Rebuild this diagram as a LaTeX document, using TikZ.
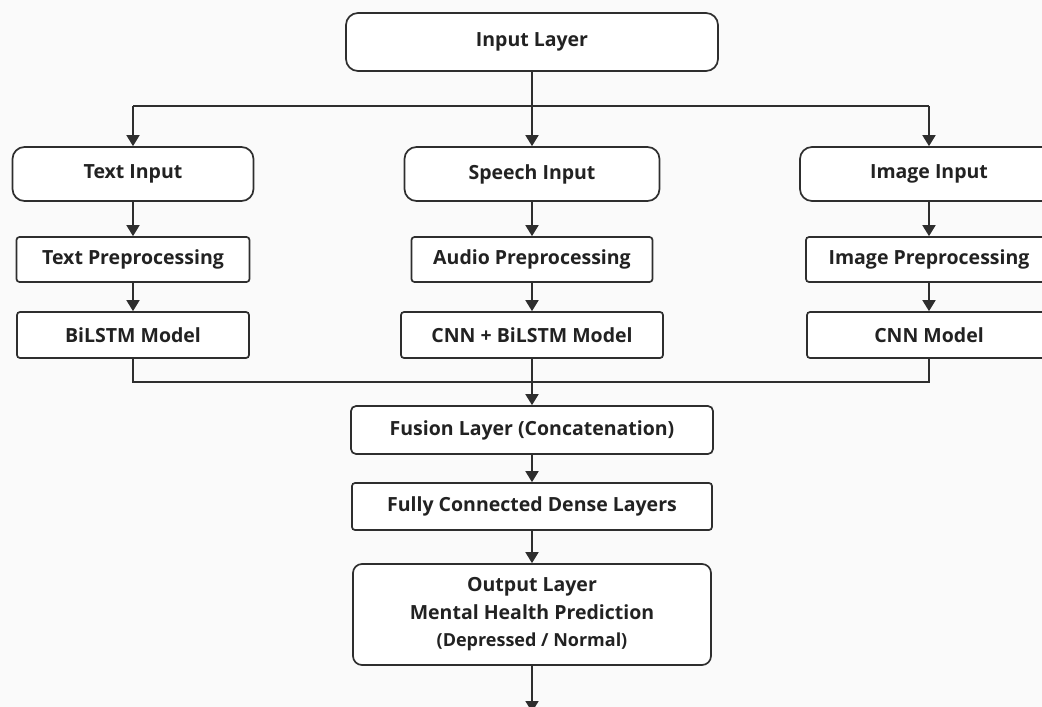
\documentclass[tikz,border=0pt]{standalone}
\usepackage{fontspec}
\setmainfont{Open Sans}
\usetikzlibrary{arrows.meta}
\definecolor{ln}{HTML}{2E2E2E}
\definecolor{tx}{HTML}{222222}
\definecolor{bg}{HTML}{FAFAFA}
\begin{document}
\begin{tikzpicture}[x=1pt,y=-1pt,
  box/.style={draw=ln, line width=1.7pt, fill=white, text=tx, font=\fontsize{19.5}{27.5}\selectfont\bfseries, inner sep=0pt, align=center},
  rbox/.style={box, rounded corners=12pt},
  sbox/.style={box, rounded corners=3pt},
  conn/.style={draw=ln, line width=1.7pt},
  arr/.style={conn, -{Triangle[width=13pt,length=11pt]}}]
\fill[bg] (0,0) rectangle (1042,707);
\useasboundingbox (0,0) rectangle (1042,707);
\clip (0,0) rectangle (1042,707);
% nodes
\node[rbox, minimum width=372pt, minimum height=58pt] (inp) at (532,42) {Input Layer};
\node[rbox, minimum width=241pt, minimum height=54pt] (tin) at (133,174) {Text Input};
\node[rbox, minimum width=255pt, minimum height=54pt] (sin) at (532,174) {Speech Input};
\node[rbox, minimum width=258pt, minimum height=54pt] (iin) at (929,174) {Image Input};
\node[sbox, minimum width=233pt, minimum height=45pt] (tpre) at (133,259.5) {Text Preprocessing};
\node[sbox, minimum width=241pt, minimum height=45pt] (apre) at (532,259.5) {Audio Preprocessing};
\node[sbox, minimum width=246pt, minimum height=45pt] (ipre) at (929,259.5) {Image Preprocessing};
\node[sbox, minimum width=232pt, minimum height=46pt] (bil) at (133,335) {BiLSTM Model};
\node[sbox, minimum width=262pt, minimum height=46pt] (cbil) at (532,335) {CNN + BiLSTM Model};
\node[sbox, minimum width=244pt, minimum height=46pt] (cnn) at (929,335) {CNN Model};
\node[box, rounded corners=5pt, minimum width=362pt, minimum height=48pt] (fus) at (532,430) {Fusion Layer (Concatenation)};
\node[sbox, minimum width=360pt, minimum height=47pt] (den) at (532,506.5) {Fully Connected Dense Layers};
\node[box, rounded corners=9pt, minimum width=358pt, minimum height=101pt] (out) at (532,614.5)
  {Output Layer\\Mental Health Prediction\\{\fontsize{18}{27.5}\selectfont (Depressed / Normal)}};
% connectors
\coordinate (bus) at (532,106);
\coordinate (col) at (532,382);
\coordinate (end) at (532,712);
\draw[conn] (tin.north |- bus) -- (iin.north |- bus);
\draw[arr] (inp.south) -- (sin.north);
\draw[arr] (tin.north |- bus) -- (tin.north);
\draw[arr] (iin.north |- bus) -- (iin.north);
\draw[arr] (tin.south) -- (tpre.north);
\draw[arr] (sin.south) -- (apre.north);
\draw[arr] (iin.south) -- (ipre.north);
\draw[arr] (tpre.south) -- (bil.north);
\draw[arr] (apre.south) -- (cbil.north);
\draw[arr] (ipre.south) -- (cnn.north);
\draw[conn] (bil.south) -- (bil.south |- col) -- (cnn.south |- col) -- (cnn.south);
\draw[arr] (cbil.south) -- (fus.north);
\draw[arr] (fus.south) -- (den.north);
\draw[arr] (den.south) -- (out.north);
\draw[arr] (out.south) -- (end);
\end{tikzpicture}
\end{document}
